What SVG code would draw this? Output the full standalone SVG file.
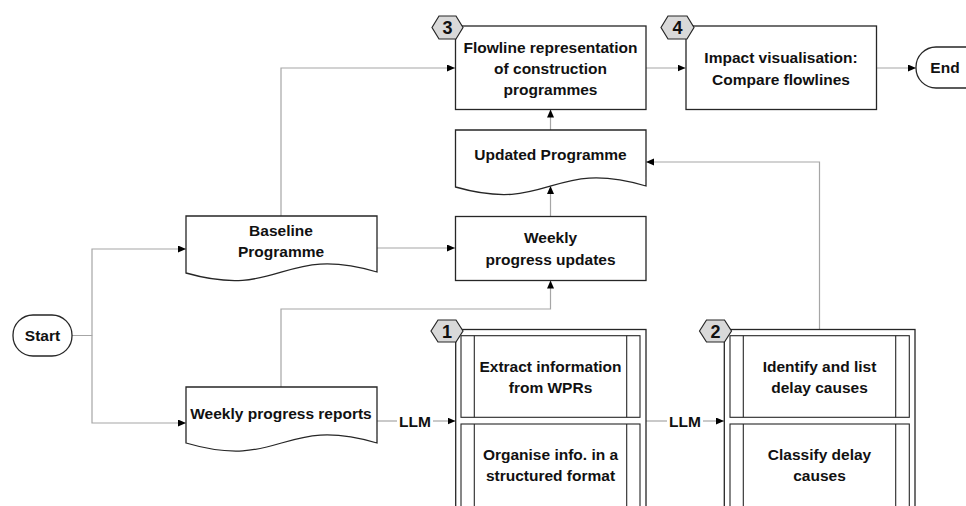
<svg xmlns="http://www.w3.org/2000/svg" width="966" height="506" viewBox="0 0 966 506">
  <defs>
    <marker id="arr" markerWidth="9" markerHeight="8" refX="8" refY="3.5" orient="auto" markerUnits="userSpaceOnUse">
      <path d="M0,0 L8,3.5 L0,7 z" fill="#000"/>
    </marker>
    <style>
      .shape { fill: #fff; stroke: #262626; stroke-width: 1.3; }
      .inner { fill: #fff; stroke: #262626; stroke-width: 1.1; }
      .hex { fill: #d9d9d9; stroke: #262626; stroke-width: 1.2; }
      .conn { fill: none; stroke: #a6a6a6; stroke-width: 1.2; marker-end: url(#arr); }
      .line { fill: none; stroke: #a6a6a6; stroke-width: 1.2; }
      text { font-family: "Liberation Sans", Arial, sans-serif; font-weight: bold; font-size: 15.5px; fill: #111; text-anchor: middle; }
      .num { font-size: 18px; }
    </style>
  </defs>
  <rect width="966" height="506" fill="#fff"/>

  <g id="connectors">
    <path class="conn" d="M72,335.5 H92 V249 H186"/>
    <path class="conn" d="M92,335.5 V423 H186"/>
    <path class="conn" d="M377,248 H455"/>
    <path class="conn" d="M281,216 V68 H455"/>
    <path class="conn" d="M281,387 V309 H550.5 V280.5"/>
    <path class="line" d="M377,421 H397"/>
    <path class="conn" d="M433,421 H455.5"/>
    <path class="line" d="M646,421 H667"/>
    <path class="conn" d="M703,421 H724"/>
    <path class="conn" d="M819.5,329.5 V162 H646"/>
    <path class="conn" d="M550.5,216.5 V186"/>
    <path class="conn" d="M550.5,130 V109.5"/>
    <path class="conn" d="M646,68 H685.5"/>
    <path class="conn" d="M877,68 H916"/>
    <text x="415" y="426.5">LLM</text>
    <text x="685" y="426.5">LLM</text>
  </g>

  <g id="start">
    <rect class="shape" x="13" y="315" width="59" height="41" rx="20" ry="20"/>
    <text x="42.5" y="341">Start</text>
  </g>

  <g id="baseline">
    <path class="shape" d="M186,216 H377 V272 C281.5,244 281.5,300 186,273 Z"/>
    <text x="281" y="235.5">Baseline</text>
    <text x="281" y="256.5">Programme</text>
  </g>

  <g id="wpr">
    <path class="shape" d="M186,387 H377 V443 C281.5,415 281.5,471 186,443 Z"/>
    <text x="281" y="418.5">Weekly progress reports</text>
  </g>

  <g id="flowline">
    <rect class="shape" x="455.5" y="26" width="190.5" height="83.5"/>
    <text x="550.5" y="52.5">Flowline representation</text>
    <text x="550.5" y="74">of construction</text>
    <text x="550.5" y="95">programmes</text>
    <polygon class="hex" points="432,27.5 439,16 456,16 463,27.5 456,39 439,39"/>
    <text class="num" x="447.5" y="34">3</text>
  </g>

  <g id="impact">
    <rect class="shape" x="686" y="26" width="190.5" height="83.5"/>
    <text x="781" y="63">Impact visualisation:</text>
    <text x="781" y="85">Compare flowlines</text>
    <polygon class="hex" points="661,27.5 668,16 687,16 694,27.5 687,39 668,39"/>
    <text class="num" x="677.5" y="34">4</text>
  </g>

  <g id="end">
    <rect class="shape" x="916" y="47" width="70" height="41" rx="20" ry="20"/>
    <text x="945" y="73">End</text>
  </g>

  <g id="updated">
    <path class="shape" d="M455.5,130 H646 V186 C550.5,158 550.5,214 455.5,187 Z"/>
    <text x="550.5" y="159.5">Updated Programme</text>
  </g>

  <g id="weekly-updates">
    <rect class="shape" x="455.5" y="216.5" width="190.5" height="64"/>
    <text x="550.5" y="243">Weekly</text>
    <text x="550.5" y="265">progress updates</text>
  </g>

  <g id="process1">
    <rect class="shape" x="455.7" y="329.5" width="190.3" height="190"/>
    <rect class="inner" x="461" y="335.7" width="179" height="81.6"/>
    <line class="inner" x1="474.3" y1="335.7" x2="474.3" y2="417.3"/>
    <line class="inner" x1="626.7" y1="335.7" x2="626.7" y2="417.3"/>
    <text x="550.5" y="371.5">Extract information</text>
    <text x="550.5" y="392.5">from WPRs</text>
    <rect class="inner" x="461" y="424" width="179" height="90"/>
    <line class="inner" x1="474.3" y1="424" x2="474.3" y2="514"/>
    <line class="inner" x1="626.7" y1="424" x2="626.7" y2="514"/>
    <text x="550.5" y="459.5">Organise info. in a</text>
    <text x="550.5" y="480.5">structured format</text>
    <polygon class="hex" points="431,331 438,320 456,320 463,331 456,342 438,342"/>
    <text class="num" x="447" y="337.5">1</text>
  </g>

  <g id="process2">
    <rect class="shape" x="724.3" y="329.5" width="190.7" height="190"/>
    <rect class="inner" x="730" y="335.7" width="179.3" height="81.6"/>
    <line class="inner" x1="743.3" y1="335.7" x2="743.3" y2="417.3"/>
    <line class="inner" x1="895.7" y1="335.7" x2="895.7" y2="417.3"/>
    <text x="819.5" y="371.5">Identify and list</text>
    <text x="819.5" y="392.5">delay causes</text>
    <rect class="inner" x="730" y="424" width="179.3" height="90"/>
    <line class="inner" x1="743.3" y1="424" x2="743.3" y2="514"/>
    <line class="inner" x1="895.7" y1="424" x2="895.7" y2="514"/>
    <text x="819.5" y="459.5">Classify delay</text>
    <text x="819.5" y="480.5">causes</text>
    <polygon class="hex" points="699.5,331 706.5,320 724.5,320 731.5,331 724.5,342 706.5,342"/>
    <text class="num" x="715.5" y="337.5">2</text>
  </g>
</svg>
